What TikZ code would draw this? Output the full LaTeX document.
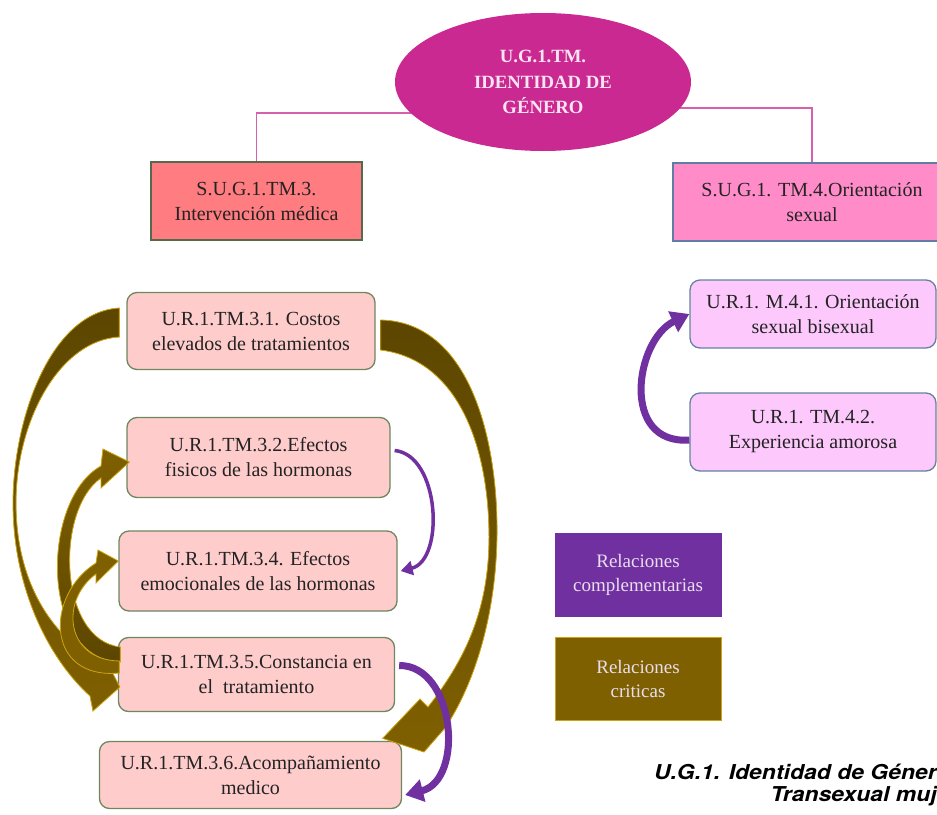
\documentclass[tikz,border=0pt]{standalone}
\usepackage{fontspec}
\setmainfont{Liberation Serif}
\newfontfamily\capfont[FakeStretch=1.12]{TeX Gyre Heros}
\usetikzlibrary{arrows.meta,backgrounds,shapes.geometric}

\definecolor{genmagenta}{RGB}{201,41,145}
\definecolor{gentext}{RGB}{252,228,242}
\definecolor{linkpink}{RGB}{214,96,172}
\definecolor{subred}{RGB}{255,124,128}
\definecolor{subredborder}{RGB}{85,105,75}
\definecolor{subpink}{RGB}{255,140,200}
\definecolor{subpinkborder}{RGB}{95,125,165}
\definecolor{unitfill}{RGB}{255,204,204}
\definecolor{unitborder}{RGB}{110,135,95}
\definecolor{orientfill}{RGB}{253,200,252}
\definecolor{orientborder}{RGB}{100,130,160}
\definecolor{comppurple}{RGB}{112,48,160}
\definecolor{critbrown}{RGB}{127,96,0}
\definecolor{critdark}{RGB}{92,70,0}
\definecolor{critgold}{RGB}{205,165,20}
\definecolor{legendtext}{RGB}{232,222,240}
\definecolor{boxtext}{RGB}{35,35,35}

\begin{document}
\begin{tikzpicture}[x=1pt, y=-1pt,
	gen/.style={ellipse, fill=genmagenta, minimum width=296pt, minimum height=138pt, inner sep=0pt, align=center, text=gentext, font=\bfseries\fontsize{18.7}{25.5}\selectfont},
	subbox/.style={line width=1.5pt, minimum height=78pt, inner sep=0pt, align=center, text=boxtext, font=\fontsize{20}{25}\selectfont},
	unit/.style={draw=unitborder, fill=unitfill, line width=1.3pt, rounded corners=10pt, inner sep=0pt, align=center, text=boxtext, font=\fontsize{20}{25}\selectfont},
	orient/.style={unit, draw=orientborder, fill=orientfill, minimum width=246pt},
	legend/.style={line width=1pt, minimum width=166pt, minimum height=83pt, inner sep=0pt, align=center, text=legendtext, font=\fontsize{19}{24}\selectfont},
	caption/.style={inner sep=0pt, align=right, font=\capfont\bfseries\itshape\fontsize{20.5}{21.5}\selectfont},
	link/.style={draw=linkpink, line width=1.8pt},
	critarrow/.style={draw=critgold, line width=0.8pt, fill=critbrown},
	comp/.style={draw=comppurple, line width=3.5pt, -{Triangle[width=14pt,length=12pt]}},
	compthick/.style={comp, line width=7pt, -{Triangle[width=22pt,length=18pt]}}
]
	\useasboundingbox (0,0) rectangle (937,814);
	\clip (0,0) rectangle (937,814);

	% main unit
	\node[gen] (gen) at (543, 82) {U.G.1.TM.\\IDENTIDAD DE\\GÉNERO};

	% subcategories
	\node[subbox, fill=subred, draw=subredborder, minimum width=211pt] (sub3) at (256.5, 201) {S.U.G.1.TM.3.\\Intervención médica};
	\node[subbox, fill=subpink, draw=subpinkborder, minimum width=278pt] (sub4) at (812, 202) {S.U.G.1. TM.4.Orientación\\sexual};

	\begin{scope}[on background layer]
		\draw[link] (sub3.north) |- ([yshift=-31pt]gen.center);
		\draw[link] (sub4.north) |- ([yshift=-26pt]gen.center);
	\end{scope}

	% units of S.U.G.1.TM.3
	\node[unit, minimum width=248pt, minimum height=77pt] (u1) at (251, 331) {U.R.1.TM.3.1. Costos\\elevados de tratamientos};
	\node[unit, minimum width=263pt, minimum height=80pt] (u2) at (258.5, 457.5) {U.R.1.TM.3.2.Efectos\\fisicos de las hormonas};
	\node[unit, minimum width=278pt, minimum height=80pt] (u4) at (258, 571) {U.R.1.TM.3.4. Efectos\\emocionales de las hormonas};
	\node[unit, minimum width=276pt, minimum height=74pt] (u5) at (256.5, 674.5) {U.R.1.TM.3.5.Constancia en\\el\ \ tratamiento};
	\node[unit, minimum width=302pt, minimum height=67pt] (u6) at (250.5, 775) {U.R.1.TM.3.6.Acompañamiento\\medico};

	% units of S.U.G.1.TM.4
	\node[orient, minimum height=68pt] (o1) at (813, 314) {U.R.1. M.4.1. Orientación\\sexual bisexual};
	\node[orient, minimum height=78pt] (o2) at (813, 432) {U.R.1. TM.4.2.\\Experiencia amorosa};

	% legend
	\node[legend, fill=comppurple, draw=comppurple] (lcomp) at (638, 575) {Relaciones\\complementarias};
	\node[legend, fill=critbrown, draw=critgold] (lcrit) at (638, 678.5) {Relaciones\\criticas};

	% critical relations (curved block arrows)
	\path[critarrow, top color=critdark, bottom color=critbrown]
		([xshift=-7pt,yshift=23pt]u1.west) .. controls (50,312) and (13,420) .. (13,503)
		.. controls (13,590) and (50,660) .. (90,696) -- (93,711) -- ([xshift=2pt,yshift=-12.5pt]u5.west)
		-- (110,668) .. controls (50,640) and (16,580) .. (16,503)
		.. controls (16,420) and (60,340) .. ([xshift=-7pt,yshift=-6pt]u1.west) -- cycle;
	\path[critarrow, top color=critdark, bottom color=critbrown]
		([xshift=5pt,yshift=11pt]u1.east) .. controls (470,322) and (498,440) .. (497,535)
		.. controls (496,620) and (472,688) .. (445,728) -- (424,752) -- ([xshift=-19.5pt,yshift=2.5pt]u6.north east)
		-- (420,699) -- (428,707) .. controls (465,660) and (489,610) .. (489,537)
		.. controls (489,450) and (460,360) .. ([xshift=5pt,yshift=-19pt]u1.east) -- cycle;
	\path[critarrow, top color=critbrown, bottom color=critdark]
		([xshift=2.5pt,yshift=12.5pt]u5.west) .. controls (40,660) and (40,500) .. (101,466)
		-- (103,449) -- ([xshift=3pt,yshift=-4.5pt]u2.west) -- (101,488) -- (101,478)
		.. controls (55,510) and (58,640) .. ([xshift=2.5pt,yshift=27.5pt]u5.west) -- cycle;
	\path[critarrow]
		([xshift=1.5pt,yshift=1.5pt]u5.west) .. controls (45,680) and (45,595) .. (96,563)
		-- (98,550) -- ([yshift=10pt]u4.west) -- (96,583) -- (96,574)
		.. controls (60,600) and (65,660) .. ([xshift=1.5pt,yshift=13.5pt]u5.west) -- cycle;

	% complementary relations
	\draw[comp] ([xshift=4pt,yshift=7pt]u2.east) .. controls (440,455) and (445,560) .. ([xshift=3pt]u4.east);
	\draw[compthick] ([xshift=4pt,yshift=9pt]u5.east) .. controls (455,665) and (465,780) .. ([xshift=3pt,yshift=-20pt]u6.east);
	\draw[compthick] ([yshift=-8pt]o2.west) .. controls (620,445) and (635,340) .. (o1.west);

	% caption
	\node[caption, anchor=north east] (cap) at (937, 764) {U.G.1. Identidad de Géner\\Transexual muj};
\end{tikzpicture}
\end{document}
